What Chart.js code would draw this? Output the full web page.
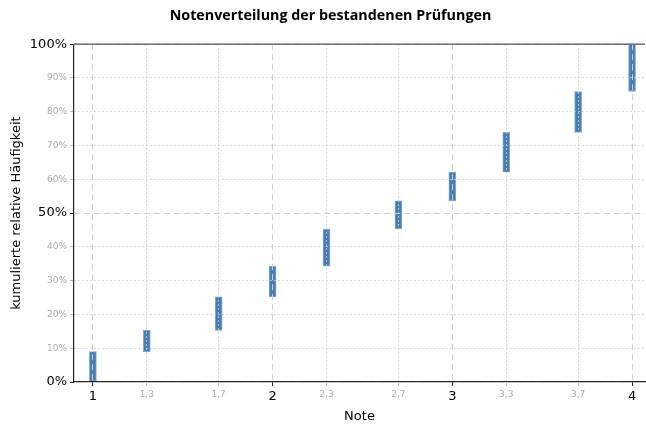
<!DOCTYPE html>
<html>
<head>
<meta charset="utf-8">
<script src="https://cdn.jsdelivr.net/npm/chart.js@4"></script>
<style>
  html, body { margin: 0; padding: 0; background: #fff; }
  #wrap { width: 646px; height: 424px; }
</style>
</head>
<body>
<div id="wrap"><canvas id="notenChart"></canvas></div>
<script>
// Noten und kumulierte relative Häufigkeit (in %)
const noten = [1, 1.3, 1.7, 2, 2.3, 2.7, 3, 3.3, 3.7, 4];
const kumVon = [0, 9.0, 15.3, 25.2, 34.3, 45.3, 53.6, 62.1, 73.9, 86.0];
const kumBis = [9.0, 15.3, 25.2, 34.3, 45.3, 53.6, 62.1, 73.9, 86.0, 100];
const yTicks = [0, 10, 20, 30, 40, 50, 60, 70, 80, 90, 100];
const yMajor = [0, 50, 100];

const FONT = "'DejaVu Sans', sans-serif";
const GRID = '#cfcfcf';

// scriptable options get called without a tick too, so guard it
const tickVal = c => (c && c.tick) ? c.tick.value : null;
const isMajorX = c => Number.isInteger(tickVal(c));
const isMajorY = c => yMajor.includes(tickVal(c));

// top spine + nudge title a bit to the right like the original
const extras = {
    id: 'extras',
    afterLayout(chart) {
        const t = chart.titleBlock;
        if (t) { t.left += 8; t.right += 8; }
    },
    afterDraw(chart) {
        const { ctx, chartArea } = chart;
        ctx.save();
        ctx.strokeStyle = '#555';
        ctx.lineWidth = 1.2;
        ctx.beginPath();
        ctx.moveTo(chartArea.left, chartArea.top);
        ctx.lineTo(chartArea.right, chartArea.top);
        ctx.stroke();
        ctx.restore();
    }
};

const ctx = document.getElementById('notenChart').getContext('2d');

new Chart(ctx, {
    type: 'bar',
    data: {
        datasets: [{
            label: 'kumulierte relative Häufigkeit',
            data: noten.map((n, i) => ({ x: n, y: [kumVon[i], kumBis[i]] })),
            backgroundColor: 'rgb(72, 126, 180)',
            borderColor: 'rgba(80, 135, 188, 0.7)',
            borderWidth: 1,
            borderSkipped: false,
            barThickness: 7
        }]
    },
    plugins: [extras],
    options: {
        responsive: true,
        maintainAspectRatio: false,
        animation: false,
        layout: { padding: { left: 0, right: 1, top: 0, bottom: 0 } },
        plugins: {
            legend: { display: false },
            tooltip: { enabled: false },
            title: {
                display: true,
                text: 'Notenverteilung der bestandenen Prüfungen',
                color: '#000',
                font: { family: "'Open Sans', sans-serif", size: 14.3, weight: 'bold', lineHeight: 1.2 },
                padding: { top: 7, bottom: 20 }
            }
        },
        scales: {
            x: {
                type: 'linear',
                offset: false,
                min: 0.895,
                max: 4.072,
                afterBuildTicks: scale => {
                    scale.ticks = noten.map(v => ({ value: v }));
                },
                afterFit: scale => { scale.height = 42; },
                ticks: {
                    autoSkip: false,
                    maxRotation: 0,
                    padding: 3,
                    callback: v => String(v).replace('.', ','),
                    color: c => isMajorX(c) ? '#000' : '#aaa',
                    font: c => ({ family: FONT, size: isMajorX(c) ? 13 : 9 })
                },
                grid: {
                    offset: false,
                    z: 1,
                    color: GRID,
                    lineWidth: 1,
                    tickLength: 4,
                    tickColor: c => isMajorX(c) ? '#222' : '#bbb'
                },
                border: {
                    display: true,
                    z: 1,
                    color: '#222',
                    width: 1.2,
                    dash: c => isMajorX(c) ? [6, 4] : [1.5, 2.5]
                },
                title: {
                    display: true,
                    text: 'Note',
                    color: '#000',
                    font: { family: FONT, size: 13 },
                    padding: { top: 0, bottom: 0 }
                }
            },
            y: {
                min: 0,
                max: 100,
                afterBuildTicks: scale => {
                    scale.ticks = yTicks.map(v => ({ value: v }));
                },
                afterFit: scale => { scale.width = 74; },
                ticks: {
                    autoSkip: false,
                    padding: 3,
                    callback: v => v + '%',
                    color: c => isMajorY(c) ? '#000' : '#aaa',
                    font: c => ({ family: FONT, size: isMajorY(c) ? 13 : 9 })
                },
                grid: {
                    z: 1,
                    color: GRID,
                    lineWidth: 1,
                    tickLength: 4,
                    tickColor: c => isMajorY(c) ? '#222' : '#bbb'
                },
                border: {
                    display: true,
                    z: 1,
                    color: '#222',
                    width: 1.2,
                    dash: c => isMajorY(c) ? [6, 4] : [1.5, 2.5]
                },
                title: {
                    display: true,
                    text: 'kumulierte relative Häufigkeit',
                    color: '#000',
                    font: { family: FONT, size: 13 },
                    padding: { top: 9, bottom: 0 }
                }
            }
        }
    }
});
</script>
</body>
</html>
